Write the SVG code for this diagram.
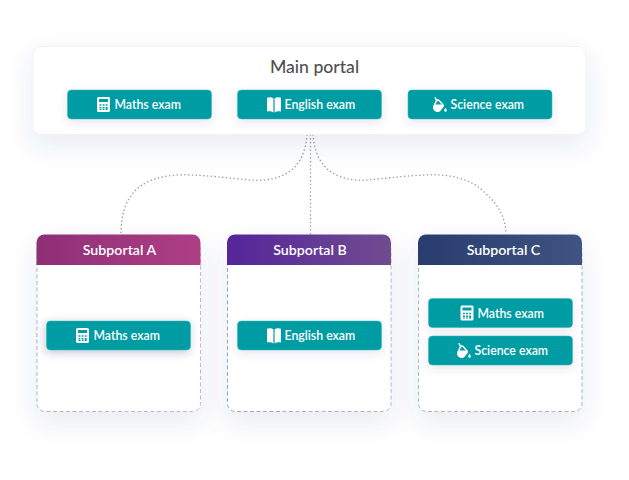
<svg xmlns="http://www.w3.org/2000/svg" width="629" height="480" viewBox="0 0 629 480">
<style>
text{font-family:Lato,"Noto Sans","Liberation Sans",sans-serif}
.btn{fill:#009CA3;stroke:#2CB4BA;stroke-width:.5}
.bt{fill:#fff;font-size:12.300px;font-weight:600}
.ht{fill:#fff;font-size:14.200px;font-weight:600;text-anchor:middle}
.card{fill:#fff}
.conn{fill:none;stroke:#989ca9;stroke-width:1.500;stroke-dasharray:.1 3.700;stroke-linecap:round}
.ic{fill:#fff}
</style>
<defs>
<filter id="sc" x="-25%" y="-25%" width="150%" height="170%"><feDropShadow dx="0" dy="10" stdDeviation="13" flood-color="#3c4a78" flood-opacity=".11"/></filter>
<filter id="sm" x="-25%" y="-70%" width="150%" height="260%"><feDropShadow dx="0" dy="3" stdDeviation="5" flood-color="#3c4a78" flood-opacity=".13"/></filter>
<filter id="sa" x="-25%" y="-70%" width="150%" height="260%"><feDropShadow dx="-1" dy="2" stdDeviation="4" flood-color="#2c3a58" flood-opacity=".3"/></filter>
<linearGradient id="ga" x1="0" x2="1"><stop offset="0" stop-color="#8E2F76"/><stop offset="1" stop-color="#AE3F85"/></linearGradient>
<linearGradient id="gb" x1="0" x2="1"><stop offset="0" stop-color="#55259A"/><stop offset="1" stop-color="#704C90"/></linearGradient>
<linearGradient id="gc" x1="0" x2="1"><stop offset="0" stop-color="#283C6E"/><stop offset="1" stop-color="#3F5482"/></linearGradient>
<linearGradient id="da" x1="0" x2="1"><stop offset="0" stop-color="#a8a8c8"/><stop offset="1" stop-color="#dca0cc"/></linearGradient>
<linearGradient id="db" x1="0" x2="1"><stop offset="0" stop-color="#9a94c0"/><stop offset="1" stop-color="#b8aacc"/></linearGradient>
<linearGradient id="dc" x1="0" x2="1"><stop offset="0" stop-color="#a0aec8"/><stop offset="1" stop-color="#a0a8c4"/></linearGradient>
<symbol id="calc" viewBox="0 0 13 15" overflow="visible">
<path class="ic" fill-rule="evenodd" d="M1.500 0h10A1.500 1.500 0 0 1 13 1.500v12a1.500 1.500 0 0 1-1.500 1.500h-10A1.500 1.500 0 0 1 0 13.500v-12A1.500 1.500 0 0 1 1.500 0zM2 2v3h9V2zM2.500 7.200v1.600h1.900V7.200zm3.100 0v1.600h1.900V7.200zm3.100 0v1.600h1.900V7.200zM2.500 10v1.400h1.900V10zm3.100 0v1.400h1.900V10zm3.100 0v2.900h1.900V10zM2.500 11.900v1h1.900v-1zm3.100 0v1h1.900v-1z"/>
</symbol>
<symbol id="book" viewBox="0 0 14 16" overflow="visible">
<path class="ic" d="M0 1.200C2 .4 4.800.4 6.400 1.800V16C4.800 14.700 2 14.500 0 15zM14 1.200C12 .4 9.200.4 7.600 1.800V16C9.200 14.700 12 14.500 14 15z"/>
</symbol>
<symbol id="bucket" viewBox="0 0 14 15" overflow="visible">
<path class="ic" fill-rule="evenodd" d="M1.200 .6L2.400 0l1.600 2.500C4.900 2 6 2.200 6.600 2.900l4 4.600c.6.700.6 1.600.1 2.300L7.600 13.800c-1.100 1.200-2.600 1.400-4 1.100C1.600 14.400.3 13 .1 11.300-.1 10 .1 8.800.8 7.800L2.800 3.600zM3.900 4.800L2.400 7.400h6.300L5.900 4.300c-.6-.5-1.500-.2-2 .5z"/>
<path class="ic" d="M12.500 10.800c.5.900 1.300 1.800 1.300 2.700a1.300 1.300 0 0 1-2.600 0c0-.9.800-1.800 1.300-2.700z"/>
</symbol>
</defs>

<g id="connectors">
<path class="conn" d="M307 135C306 150 300 166 287 173C276 180 262 181 250 180C225 178 200 174 177 175C160 176 143 181 133 193C124 204 121 218 121 234"/>
<path class="conn" d="M310.500 135V234"/>
<path class="conn" d="M313 135C314 150 320 166 333 173C342 179 355 181 367 180C392 178 417 174 440 175C457 176 474 181 485 193C498 204 506 218 506 234"/>
</g>

<g id="main-portal">
<rect class="card" x="33" y="46.500" width="553" height="88" rx="8" filter="url(#sc)" stroke="#f0f1f5" stroke-width=".9"/>
<text x="314.500" y="73" text-anchor="middle" fill="#505050" font-size="17.600" font-weight="500">Main portal</text>
</g>
<g id="main-maths">
<rect class="btn" x="67.500" y="90" width="144" height="29" rx="4" filter="url(#sm)"/>
<use href="#calc" x="97" y="97" width="13" height="15"/>
<text class="bt" x="114.500" y="109">Maths exam</text>
</g>
<g id="main-english">
<rect class="btn" x="237.500" y="90" width="144" height="29" rx="4" filter="url(#sm)"/>
<use href="#book" x="267" y="96.500" width="14" height="16"/>
<text class="bt" x="284.500" y="109">English exam</text>
</g>
<g id="main-science">
<rect class="btn" x="408" y="90" width="144" height="29" rx="4" filter="url(#sm)"/>
<use href="#bucket" x="433" y="97" width="14" height="15"/>
<text class="bt" x="450.500" y="109">Science exam</text>
</g>

<g id="subportal-a">
<rect class="card" x="37" y="235" width="163.500" height="176.500" rx="8" filter="url(#sc)"/>
<rect x="37" y="242" width="163.500" height="169.500" rx="8" fill="none" stroke="url(#da)" stroke-width=".9" stroke-dasharray="4 2.500"/>
<path fill="url(#ga)" d="M45 234.500h147.500a8 8 0 0 1 8 8V265H36.500V242.500a8 8 0 0 1 8-8z"/>
<text class="ht" x="119.500" y="255">Subportal A</text>
</g>
<g id="a-maths">
<rect class="btn" x="46.500" y="321" width="144" height="29" rx="4" filter="url(#sa)"/>
<use href="#calc" x="76" y="328" width="13" height="15"/>
<text class="bt" x="93.500" y="340">Maths exam</text>
</g>

<g id="subportal-b">
<rect class="card" x="227.500" y="235" width="163.500" height="176.500" rx="8" filter="url(#sc)"/>
<rect x="227.500" y="242" width="163.500" height="169.500" rx="8" fill="none" stroke="url(#db)" stroke-width=".9" stroke-dasharray="4 2.500"/>
<path fill="url(#gb)" d="M235.500 234.500h147.500a8 8 0 0 1 8 8V265H227V242.500a8 8 0 0 1 8-8z"/>
<text class="ht" x="310" y="255">Subportal B</text>
</g>
<g id="b-english">
<rect class="btn" x="237.500" y="321" width="144" height="29" rx="4" filter="url(#sm)"/>
<use href="#book" x="267" y="327.500" width="14" height="16"/>
<text class="bt" x="284.500" y="340">English exam</text>
</g>

<g id="subportal-c">
<rect class="card" x="418.500" y="235" width="163.500" height="176.500" rx="8" filter="url(#sc)"/>
<rect x="418.500" y="242" width="163.500" height="169.500" rx="8" fill="none" stroke="url(#dc)" stroke-width=".9" stroke-dasharray="4 2.500"/>
<path fill="url(#gc)" d="M426.500 234.500h147.500a8 8 0 0 1 8 8V265H418V242.500a8 8 0 0 1 8-8z"/>
<text class="ht" x="503.500" y="255">Subportal C</text>
</g>
<g id="c-maths">
<rect class="btn" x="428.500" y="298.500" width="144" height="29" rx="4" filter="url(#sm)"/>
<use href="#calc" x="460.500" y="305.500" width="13" height="15"/>
<text class="bt" x="477.500" y="317.500">Maths exam</text>
</g>
<g id="c-science">
<rect class="btn" x="428.500" y="336" width="144" height="29" rx="4" filter="url(#sm)"/>
<use href="#bucket" x="457" y="343" width="14" height="15"/>
<text class="bt" x="474.500" y="355">Science exam</text>
</g>
</svg>
